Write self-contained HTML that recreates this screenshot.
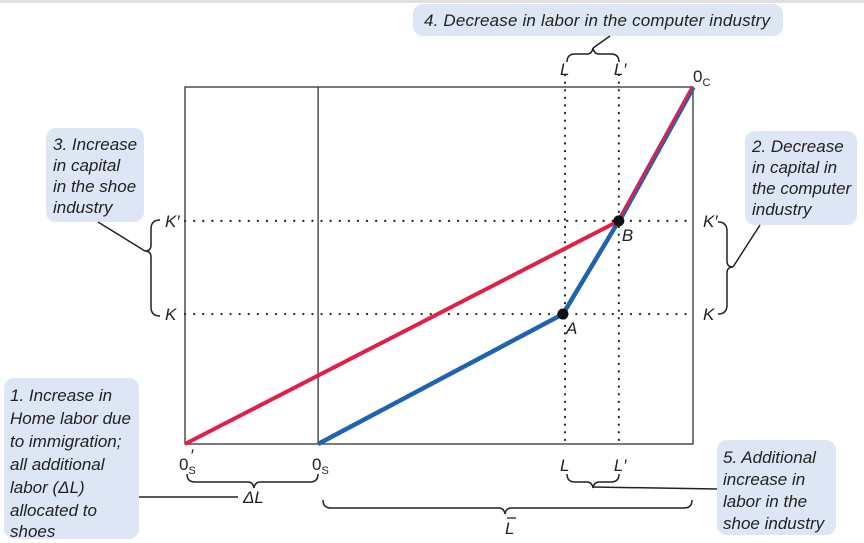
<!DOCTYPE html>
<html><head><meta charset="utf-8"><style>
body{margin:0;background:#fff;}
svg{display:block;font-family:"Liberation Sans",sans-serif;font-style:italic;}
.note{font-size:17px;fill:#222;}
.lab{font-size:17px;fill:#222;}
</style></head><body>
<svg id="chart" width="864" height="543" viewBox="0 0 864 543">
<rect x="0" y="0" width="864" height="3" fill="#e0e0e0"/>
<g id="marks"></g>
<rect x="413" y="4" width="370" height="32" rx="10" fill="#dde6f4"/>
<text class="note" x="424" y="26" textLength="346">4. Decrease in labor in the computer industry</text>
<rect x="46" y="128" width="98" height="94" rx="10" fill="#dde6f4"/>
<text class="note"><tspan x="53" y="150">3. Increase</tspan><tspan x="53" y="171">in capital</tspan><tspan x="53" y="192">in the shoe</tspan><tspan x="53" y="213">industry</tspan></text>
<rect x="745" y="131" width="112" height="94" rx="10" fill="#dde6f4"/>
<text class="note"><tspan x="752" y="152">2. Decrease</tspan><tspan x="752" y="173">in capital in</tspan><tspan x="752" y="194">the computer</tspan><tspan x="752" y="215">industry</tspan></text>
<rect x="4" y="378" width="135" height="161" rx="10" fill="#dde6f4"/>
<text class="note"><tspan x="10" y="401">1. Increase in</tspan><tspan x="10" y="424">Home labor due</tspan><tspan x="10" y="447">to immigration;</tspan><tspan x="10" y="470">all additional</tspan><tspan x="10" y="493">labor (ΔL)</tspan><tspan x="10" y="516">allocated to</tspan><tspan x="10" y="537">shoes</tspan></text>
<rect x="717" y="440" width="119" height="95" rx="10" fill="#dde6f4"/>
<text class="note"><tspan x="723" y="463">5. Additional</tspan><tspan x="723" y="485">increase in</tspan><tspan x="723" y="507">labor in the</tspan><tspan x="723" y="529">shoe industry</tspan></text>
<g fill="none" stroke="#222" stroke-width="1.5">
<path d="M567,62 q0,-8 8,-8 h12 q5,0 6,-6 q1,6 6,6 h12 q8,0 8,8"/>
<path d="M593,48 L610,36"/>
<path d="M160,220 q-9,0 -9,9 v16 q0,6 -6,6 q6,0 6,6 v50 q0,9 9,9"/>
<path d="M145,251 L98,222"/>
<path d="M718,222 q9,0 9,9 v30 q0,6 6,6 q-6,0 -6,6 v32 q0,9 -9,9"/>
<path d="M733,267 L760,225"/>
<path d="M187,474 q0,8 8,8 h53 q5,0 6,6 q1,-6 6,-6 h50 q8,0 8,-8"/>
<path d="M139,497 L238,497"/>
<path d="M323,500 q0,8 8,8 h168 q5,0 6,6 q1,-6 6,-6 h173 q8,0 8,-8"/>
<path d="M567,474 q0,8 8,8 h12 q5,0 6,6 q1,-6 6,-6 h12 q8,0 8,-8"/>
<path d="M593,487 L717,489"/>
</g>
<text class="lab" x="243" y="503">ΔL</text>
<text class="lab" x="505" y="534">L</text>
<line x1="507" y1="518" x2="516" y2="518" stroke="#222" stroke-width="1.3"/>
<text class="lab" x="693" y="82" font-style="normal">0<tspan font-size="11" dy="4">C</tspan></text>
<text class="lab" x="179" y="470" font-style="normal">0<tspan font-size="11" dy="4">S</tspan></text>
<text class="lab" x="190" y="461" font-size="13">′</text>
<text class="lab" x="312" y="470" font-style="normal">0<tspan font-size="11" dy="4">S</tspan></text>
</svg>
<script>
const laborTicks = ["L","L′"];
const laborValues = [74.8, 85.4];
const capitalTicks = ["K","K′"];
const capitalValues = [36.4, 62.5];
const originShoeNew = [0, 0];
const originShoe = [26.2, 0];
const originComputer = [100, 100];
const pointNames = ["A","B"];
const pointLabor = [74.4, 85.4];
const pointCapital = [36.4, 62.5];

const X0=185, X1=693, Y0=444, Y1=87;
const xs = v => X0 + v*(X1-X0)/100;
const ys = v => Y0 - v*(Y0-Y1)/100;
const NS="http://www.w3.org/2000/svg";
const g=document.getElementById('marks');
function mk(t,a){const e=document.createElementNS(NS,t);for(const k in a)e.setAttribute(k,a[k]);g.appendChild(e);return e;}

let e=mk('rect',{x:X0,y:Y1,width:X1-X0,height:Y0-Y1,fill:'none',stroke:'#333','stroke-width':1.3});


e=mk('line',{x1:xs(originShoe[0]),y1:Y0,x2:xs(originShoe[0]),y2:Y1,stroke:'#333','stroke-width':1.3});



laborValues.forEach((v,i)=>{
  let l=mk('line',{x1:xs(v),y1:Y1-12,x2:xs(v),y2:Y0+2,stroke:'#222','stroke-width':2.2,'stroke-dasharray':'0.1 7.5','stroke-linecap':'round'});
  
  
  let t=mk('text',{x:xs(v)-5,y:Y1-12,class:'lab'});t.textContent=laborTicks[i];
  
  
  t=mk('text',{x:xs(v)-5,y:Y0+27,class:'lab'});t.textContent=laborTicks[i];
  
  
});
capitalValues.forEach((v,i)=>{
  let l=mk('line',{x1:X0,y1:ys(v),x2:X1,y2:ys(v),stroke:'#222','stroke-width':2.2,'stroke-dasharray':'0.1 9','stroke-linecap':'round'});
  
  
  let t=mk('text',{x:X0-20,y:ys(v)+6,class:'lab'});t.textContent=capitalTicks[i];
  
  
  t=mk('text',{x:X1+10,y:ys(v)+6,class:'lab'});t.textContent=capitalTicks[i];
  
  
});

const pt=(a,b)=>xs(a)+','+ys(b);
e=mk('polyline',{points:[pt(originShoe[0],originShoe[1]),pt(pointLabor[0],pointCapital[0]),pt(pointLabor[1],pointCapital[1]),pt(originComputer[0],originComputer[1])].join(' '),fill:'none',stroke:'#1f63b0','stroke-width':4.5,'stroke-linejoin':'round'});


e=mk('polyline',{points:[pt(originShoeNew[0],originShoeNew[1]),pt(pointLabor[1],pointCapital[1]),pt(originComputer[0],originComputer[1])].join(' '),fill:'none',stroke:'#e0204a','stroke-width':4,'stroke-linejoin':'round'});


e=mk('line',{x1:xs(pointLabor[1])+1.5,y1:ys(pointCapital[1])+1,x2:xs(originComputer[0])+1.5,y2:ys(originComputer[1])+1,stroke:'#1f63b0','stroke-width':2});



pointNames.forEach((n,i)=>{
  let c=mk('circle',{cx:xs(pointLabor[i]),cy:ys(pointCapital[i]),r:5.5,fill:'#111'});
  
  
  let t=mk('text',{x:xs(pointLabor[i])+3,y:ys(pointCapital[i])+20,class:'lab'});t.textContent=n;
  
  
});
</script>
</body></html>
